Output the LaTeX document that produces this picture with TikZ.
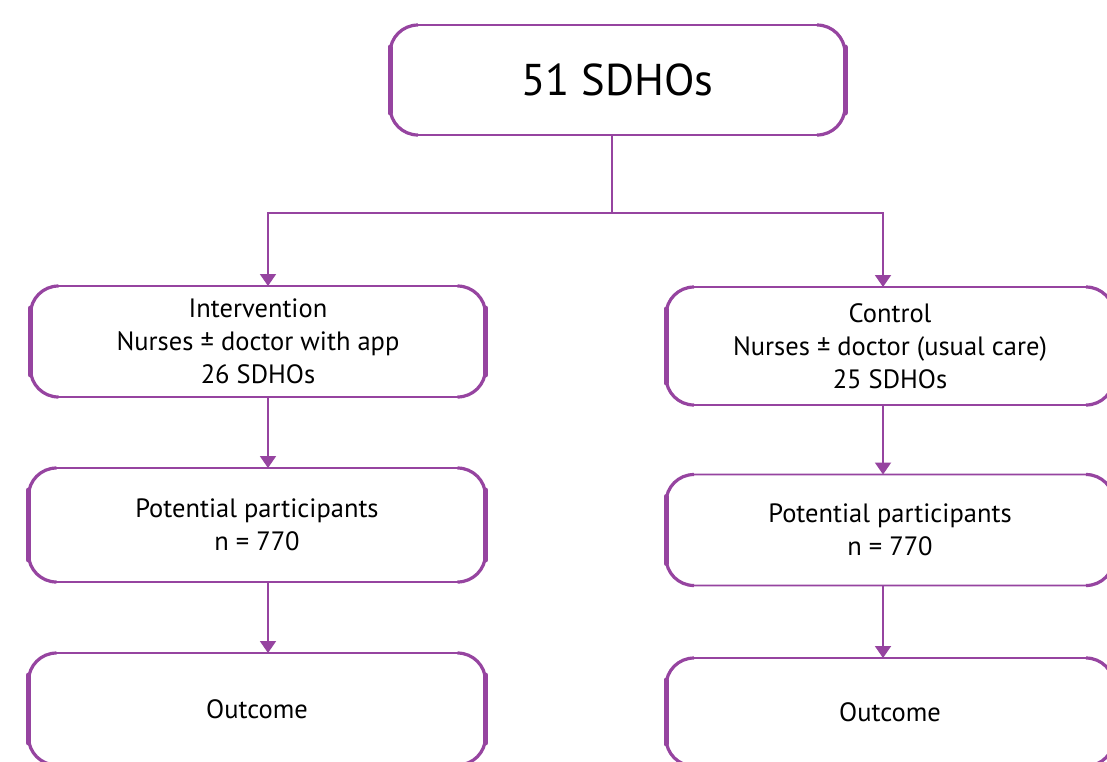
\documentclass[tikz,border=0pt]{standalone}
\usepackage{fontspec}
\setmainfont{PT Sans}
\usetikzlibrary{arrows.meta}
\definecolor{pur}{RGB}{150,68,160}
\newcommand\boxsides[1]{%
  \draw[sidethin] ([xshift=28pt]#1.north west) -- (#1.north west) -- (#1.south west) -- ([xshift=28pt]#1.south west);
  \draw[sidethin] ([xshift=-28pt]#1.north east) -- (#1.north east) -- (#1.south east) -- ([xshift=-28pt]#1.south east);
  \draw[sidethick] ([yshift=-22pt]#1.north west) -- ([yshift=22pt]#1.south west);
  \draw[sidethick] ([yshift=-22pt]#1.north east) -- ([yshift=22pt]#1.south east);
}
\begin{document}
\begin{tikzpicture}[x=1pt,y=-1pt,
  box/.style={draw=pur, line width=1.8pt, rounded corners=28pt, fill=white, align=center,
    font=\fontsize{26.5}{33}\selectfont, inner sep=0pt, outer sep=0pt},
  sidethin/.style={draw=pur, line width=3.2pt, rounded corners=28pt},
  sidethick/.style={draw=pur, line width=5pt, line cap=round},
  conn/.style={draw=pur, line width=1.9pt},
  arr/.style={conn, -{Triangle[width=16pt,length=12pt]}}]
\useasboundingbox (0,0) rectangle (1107,761);
\clip (0,0) rectangle (1107,761);
\fill[white] (0,0) rectangle (1107,761);

\node[box, minimum width=455pt, minimum height=110pt, font=\fontsize{44.5}{50}\selectfont] (top) at (617.5,80) {51 SDHOs};
\node[box, minimum width=455pt, minimum height=111pt] (int) at (258,341.5) {Intervention\\Nurses ± doctor with app\\26 SDHOs};
\node[box, minimum width=448pt, minimum height=118pt] (ctl) at (890,346) {Control\\Nurses ± doctor (usual care)\\25 SDHOs};
\node[box, minimum width=457pt, minimum height=114pt] (pl) at (257,525) {Potential participants\\n = 770};
\node[box, minimum width=448pt, minimum height=111pt] (pr) at (890,530) {Potential participants\\n = 770};
\node[box, minimum width=457pt, minimum height=112pt] (ol) at (257,709) {Outcome};
\node[box, minimum width=448pt, minimum height=108pt] (or) at (890,712) {Outcome};

\foreach \n in {top,int,ctl,pl,pr,ol,or} {\boxsides{\n}}

\coordinate (j) at (612,213);
\draw[conn] ([xshift=-5.5pt]top.south) -- (j);
\draw[arr] (j) -| ([xshift=10pt]int.north);
\draw[arr] (j) -| ([xshift=-7pt]ctl.north);
\draw[arr] ([xshift=10pt]int.south) -- ([xshift=11pt]pl.north);
\draw[arr] ([xshift=11pt]pl.south) -- ([xshift=11pt]ol.north);
\draw[arr] ([xshift=-7pt]ctl.south) -- ([xshift=-7pt]pr.north);
\draw[arr] ([xshift=-7pt]pr.south) -- ([xshift=-7pt]or.north);
\end{tikzpicture}
\end{document}
